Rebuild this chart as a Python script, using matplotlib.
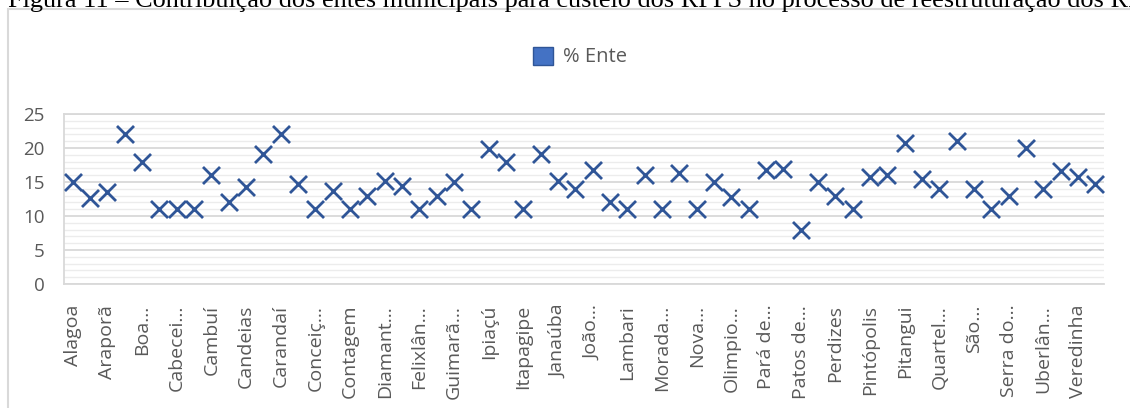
import matplotlib
matplotlib.use("Agg")
import matplotlib.pyplot as plt
from matplotlib.patches import Patch, Rectangle
from matplotlib.ticker import MultipleLocator

# Contribution of each municipality (% Ente), in category order
values = [15.0, 12.6, 13.6, 22.0, 18.0, 11.0, 11.0, 11.0, 16.0, 12.0,
          14.3, 19.1, 22.0, 14.7, 11.0, 13.7, 11.0, 13.0, 15.1, 14.4,
          11.0, 13.0, 15.0, 11.0, 19.8, 18.0, 11.0, 19.1, 15.2, 14.0,
          16.8, 12.0, 11.0, 16.0, 11.0, 16.3, 11.0, 15.0, 12.8, 11.0,
          16.7, 16.9, 8.0, 15.0, 13.0, 11.0, 15.7, 16.0, 20.7, 15.5,
          14.0, 21.0, 14.0, 11.0, 13.0, 20.0, 14.0, 16.6, 15.8, 14.7]

# Labels shown on the axis (every other category)
tick_labels = ["Alagoa", "Araporã", "Boa...", "Cabecei...", "Cambuí",
               "Candeias", "Carandaí", "Conceiç...", "Contagem", "Diamant...",
               "Felixlân...", "Guimarã...", "Ipiaçú", "Itapagipe", "Janaúba",
               "João...", "Lambari", "Morada...", "Nova...", "Olimpio...",
               "Pará de...", "Patos de...", "Perdizes", "Pintópolis", "Pitangui",
               "Quartel...", "São...", "Serra do...", "Uberlân...", "Veredinha"]

series_name = "% Ente"
title_text = ("Figura 11 – Contribuição dos entes municipais para custeio dos RPPS "
              "no processo de reestruturação dos RPPS")

W, H = 1130, 408
fig = plt.figure(figsize=(W / 100, H / 100), dpi=100)

# Caption above the chart frame
fig.text(8 / W, 1 - 7 / H, title_text, fontsize=18.9, family="Liberation Serif",
         ha="left", va="baseline", color="black")

# Chart frame
frame = Rectangle((8 / W, -0.1), 1.2, 1 - 9 / H + 0.1, transform=fig.transFigure,
                  fill=False, edgecolor="#d9d9d9", linewidth=1.5)
fig.add_artist(frame)

ax = fig.add_axes([64 / W, (H - 284) / H, (1104 - 64) / W, (284 - 114) / H])

x = list(range(len(values)))
ax.scatter(x, values, marker="x", s=150, color="#2F5597", linewidths=2.0, zorder=3)

ax.set_xlim(-0.5, len(values) - 0.5)
ax.set_ylim(0, 25)
ax.yaxis.set_major_locator(MultipleLocator(5))
ax.yaxis.set_minor_locator(MultipleLocator(1))
ax.grid(which="major", axis="y", color="#d9d9d9", linewidth=1.3)
ax.grid(which="minor", axis="y", color="#ececec", linewidth=1.0)
ax.set_axisbelow(True)

ax.spines["right"].set_visible(False)
for s in ["top", "left", "bottom"]:
    ax.spines[s].set_color("#d9d9d9")
    ax.spines[s].set_linewidth(1.3)

ax.set_xticks(x[::2])
ax.set_xticklabels(tick_labels, rotation=90, family="Open Sans", fontsize=14,
                   color="#595959")
ax.tick_params(axis="x", length=0, pad=15)
ax.tick_params(axis="y", which="both", length=0, pad=14, labelsize=13.5,
               labelcolor="#595959")
for lab in ax.get_yticklabels():
    lab.set_family("Open Sans")
ax.tick_params(axis="y", which="minor", labelleft=False)

handle = Patch(facecolor="#4472C4", edgecolor="#2F5597", linewidth=1.0)
fig.legend([handle], [series_name], loc="center", bbox_to_anchor=(580 / W, 1 - 57 / H),
           frameon=False, prop={"family": "Open Sans", "size": 14.5},
           labelcolor="#595959", handlelength=1.0, handleheight=1.0, handletextpad=0.5)

fig.savefig("out.png", dpi=100)
